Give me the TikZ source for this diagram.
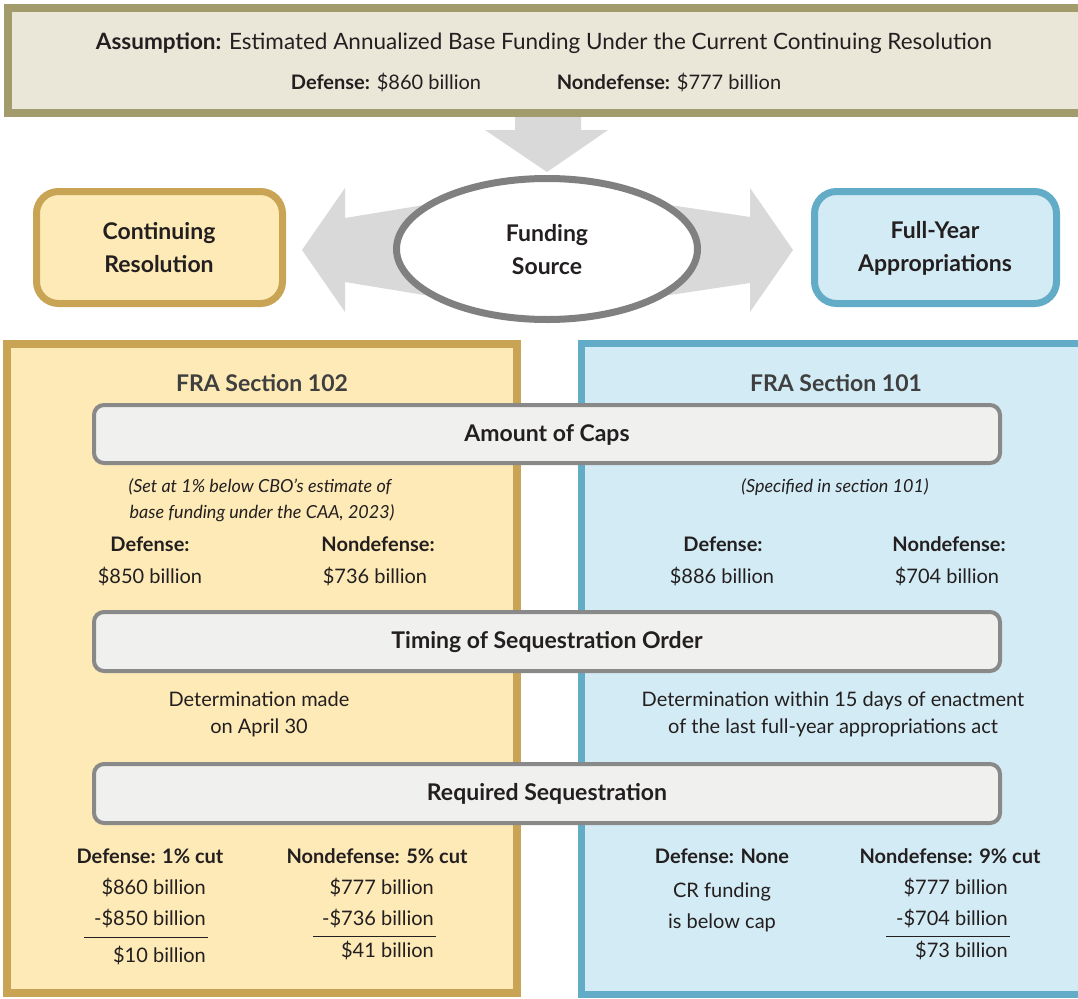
\documentclass[tikz,border=0pt]{standalone}
\usepackage{fontspec}
\setmainfont{Lato}
\usetikzlibrary{shapes.geometric}
\definecolor{txt}{HTML}{231F20}
\definecolor{hdr}{HTML}{3F3F3F}
\definecolor{banfill}{HTML}{EBE7D8}
\definecolor{banline}{HTML}{A29B6C}
\definecolor{arrowgray}{HTML}{D9D9D9}
\definecolor{ellline}{HTML}{808080}
\definecolor{yelline}{HTML}{C9A455}
\definecolor{yelfill}{HTML}{FDEAB6}
\definecolor{bluline}{HTML}{63ACC7}
\definecolor{blufill}{HTML}{D3EBF4}
\definecolor{barfill}{HTML}{F0F0EF}
\definecolor{barline}{HTML}{898989}
\tikzset{
  body/.style={text=txt, font=\fontsize{20}{27}\selectfont, inner sep=0pt},
  bodyb/.style={body, font=\fontsize{20}{27}\selectfont\bfseries},
  note/.style={body, font=\fontsize{18}{22}\selectfont\itshape},
  big/.style={text=txt, font=\fontsize{23}{33}\selectfont\bfseries, align=center, inner sep=0pt},
  fra/.style={text=hdr, font=\fontsize{23}{27}\selectfont\bfseries, inner sep=0pt},
  bartitle/.style={text=txt, font=\fontsize{23}{27}\selectfont\bfseries, inner sep=0pt},
  grayarrow/.style={fill=arrowgray, draw=none},
  barbox/.style={draw=barline, fill=barfill, line width=4pt, rounded corners=10pt},
  sumline/.style={draw=txt, line width=1pt},
}
\begin{document}
\begin{tikzpicture}[x=1pt,y=-1pt]
\useasboundingbox (0,0) rectangle (1078,998);
\clip (0,0) rectangle (1078,998);
% panels
\draw[draw=yelline, fill=yelfill, line width=8pt] (7,344) rectangle (517,993);
\draw[draw=bluline, fill=blufill, line width=7pt] (581.5,343.5) rectangle (1100,994.5);
% arrows
\path[grayarrow] (515,110) -- (581,110) -- (581,130) -- (608,130) -- (547,172) -- (485,130) -- (515,130) -- cycle;
\path[grayarrow] (430,204) -- (345,218) -- (345,188) -- (302,250) -- (345,312) -- (345,282) -- (430,296) -- cycle;
\path[grayarrow] (663,204) -- (750,217) -- (750,188) -- (793,250) -- (750,312) -- (750,283) -- (663,296) -- cycle;
% banner
\draw[draw=banline, fill=banfill, line width=8pt] (8,8) rectangle (1100,113);
\node[body, font=\fontsize{22.5}{27}\selectfont] (ban1) at (544,43) {\textbf{Assumption:} Estimated Annualized Base Funding Under the Current Continuing Resolution};
\node[body] (ban2) at (386,82) {\textbf{Defense:} \$860 billion};
\node[body] (ban3) at (669,82) {\textbf{Nondefense:} \$777 billion};
% ellipse
\node[ellipse, draw=ellline, fill=white, line width=7pt, minimum width=301pt, minimum height=141pt, inner sep=0pt] (src) at (547,249) {};
\node[big] (srct) at (547,250) {Funding\\Source};
% boxes
\draw[draw=yelline, fill=yelfill, line width=7pt, rounded corners=22pt] (36.5,191.5) rectangle (282.5,303.5);
\node[big] (cr) at (159,248) {Continuing\\Resolution};
\draw[draw=bluline, fill=blufill, line width=7pt, rounded corners=22pt] (814.5,191.5) rectangle (1056.5,303.5);
\node[big] (fya) at (935,248) {Full-Year\\Appropriations};
% headings
\node[fra] (s102) at (262,383) {FRA Section 102};
\node[fra] (s101) at (836,383) {FRA Section 101};
% bars
\draw[barbox] (94,405) rectangle (1000,463);
\node[bartitle] (caps) at (547,435) {Amount of Caps};
\draw[barbox] (94,612) rectangle (1000,671);
\node[bartitle] (timing) at (547,642) {Timing of Sequestration Order};
\draw[barbox] (94,764) rectangle (1000,823);
\node[bartitle] (req) at (547,794) {Required Sequestration};
% caps texts
\node[note] (n1) at (260,487) {(Set at 1\% below CBO’s estimate of};
\node[note] (n2) at (262,513) {base funding under the CAA, 2023)};
\node[note] (n3) at (835,487) {(Specified in section 101)};
\node[bodyb] (d1) at (150,544) {Defense:};
\node[body] (d1v) at (150,576) {\$850 billion};
\node[bodyb] (nd1) at (378,544) {Nondefense:};
\node[body] (nd1v) at (375,576) {\$736 billion};
\node[bodyb] (d2) at (723,544) {Defense:};
\node[body] (d2v) at (722,576) {\$886 billion};
\node[bodyb] (nd2) at (949,544) {Nondefense:};
\node[body] (nd2v) at (947,576) {\$704 billion};
% timing texts
\node[body, align=center] (t1) at (259,714) {Determination made\\on April 30};
\node[body, align=center] (t2) at (833,714) {Determination within 15 days of enactment\\of the last full-year appropriations act};
% required texts
\node[bodyb] (r1) at (150,856) {Defense: 1\% cut};
\node[body, anchor=east] (r1a) at (206,887) {\$860 billion};
\node[body, anchor=east] (r1b) at (206,918) {-\$850 billion};
\node[body, anchor=east] (r1c) at (206,955) {\$10 billion};
\coordinate (l1a) at (84,937);
\coordinate (l1b) at (208,937);
\draw[sumline] (l1a) -- (l1b);
\node[bodyb] (r2) at (377,856) {Nondefense: 5\% cut};
\node[body, anchor=east] (r2a) at (434,887) {\$777 billion};
\node[body, anchor=east] (r2b) at (434,918) {-\$736 billion};
\node[body, anchor=east] (r2c) at (434,950) {\$41 billion};
\coordinate (l2a) at (313,936);
\coordinate (l2b) at (436,936);
\draw[sumline] (l2a) -- (l2b);
\node[bodyb] (r3) at (722,856) {Defense: None};
\node[body] (r3a) at (722,892) {CR funding};
\node[body] (r3b) at (722,923) {is below cap};
\node[bodyb] (r4) at (950,856) {Nondefense: 9\% cut};
\node[body, anchor=east] (r4a) at (1008,887) {\$777 billion};
\node[body, anchor=east] (r4b) at (1008,918) {-\$704 billion};
\node[body, anchor=east] (r4c) at (1008,950) {\$73 billion};
\coordinate (l4a) at (886,936);
\coordinate (l4b) at (1010,936);
\draw[sumline] (l4a) -- (l4b);
\end{tikzpicture}
\end{document}
